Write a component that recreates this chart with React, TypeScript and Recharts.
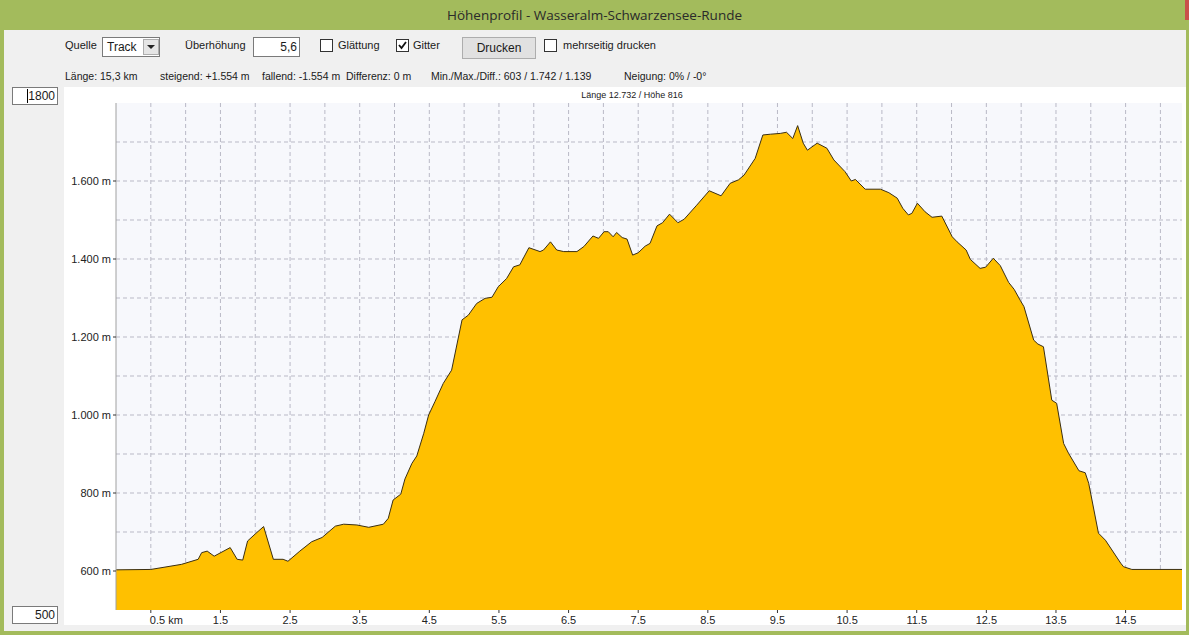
import React from 'react';
import { AreaChart, Area, XAxis, YAxis, CartesianGrid } from 'recharts';

// distance along the track (km)
const distances = [
  0, 0.5, 0.94, 1.18, 1.23, 1.31, 1.41, 1.64, 1.74, 1.82,
  1.89, 2.0, 2.12, 2.26, 2.4, 2.47, 2.64, 2.81, 2.96, 3.15,
  3.27, 3.46, 3.63, 3.84, 3.91, 3.98, 4.09, 4.15, 4.25, 4.32,
  4.42, 4.49, 4.58, 4.7, 4.82, 4.97, 5.06, 5.18, 5.3, 5.4,
  5.49, 5.61, 5.71, 5.8, 5.93, 6.09, 6.14, 6.24, 6.33, 6.43,
  6.62, 6.72, 6.85, 6.93, 7.01, 7.07, 7.14, 7.19, 7.27, 7.34,
  7.42, 7.5, 7.6, 7.67, 7.77, 7.85, 7.95, 8.07, 8.16, 8.34,
  8.52, 8.69, 8.82, 8.94, 9.02, 9.18, 9.29, 9.4, 9.54, 9.63,
  9.72, 9.79, 9.87, 9.93, 10.07, 10.21, 10.31, 10.47, 10.56, 10.62,
  10.76, 10.98, 11.1, 11.22, 11.3, 11.38, 11.43, 11.51, 11.62, 11.72,
  11.86, 12.01, 12.08, 12.21, 12.27, 12.41, 12.49, 12.6, 12.7, 12.82,
  12.9, 12.99, 13.04, 13.18, 13.24, 13.32, 13.44, 13.51, 13.61, 13.68,
  13.83, 13.92, 13.97, 14.11, 14.21, 14.43, 14.47, 14.59, 15.31,
];

// elevation (m)
const elevations = [
  603, 604, 617, 630, 647, 651, 638, 660, 630, 628,
  677, 695, 714, 630, 630, 625, 651, 675, 686, 715,
  720, 718, 712, 720, 735, 782, 797, 836, 876, 895,
  953, 1000, 1034, 1081, 1115, 1244, 1256, 1286, 1299, 1302,
  1329, 1350, 1380, 1385, 1429, 1419, 1423, 1444, 1423, 1419,
  1419, 1432, 1459, 1453, 1470, 1470, 1457, 1468, 1455, 1451,
  1410, 1416, 1433, 1440, 1485, 1493, 1515, 1493, 1502, 1538,
  1575, 1562, 1594, 1603, 1615, 1658, 1718, 1720, 1722, 1725,
  1709, 1742, 1697, 1679, 1697, 1684, 1654, 1624, 1600, 1604,
  1579, 1579, 1570, 1556, 1530, 1513, 1517, 1543, 1521, 1507,
  1510, 1457, 1444, 1423, 1399, 1376, 1379, 1402, 1383, 1340,
  1322, 1293, 1278, 1192, 1182, 1175, 1038, 1030, 927, 902,
  857, 852, 825, 697, 679, 620, 611, 604, 604,
];

const xTicks = [0.5, 1.5, 2.5, 3.5, 4.5, 5.5, 6.5, 7.5, 8.5, 9.5, 10.5, 11.5, 12.5, 13.5, 14.5];
const yTicks = [600, 800, 1000, 1200, 1400, 1600];
const xGrid = [0.5, 1, 1.5, 2, 2.5, 3, 3.5, 4, 4.5, 5, 5.5, 6, 6.5, 7, 7.5, 8, 8.5, 9, 9.5, 10, 10.5, 11, 11.5, 12, 12.5, 13, 13.5, 14, 14.5, 15];
const yGrid = [600, 700, 800, 900, 1000, 1100, 1200, 1300, 1400, 1500, 1600, 1700];

const data = distances.map((d, i) => ({ km: d, hoehe: elevations[i] }));

const font = '"Liberation Sans", Arial, sans-serif';

const fmtMeter = (v: number) =>
  v >= 1000 ? `${Math.floor(v / 1000)}.${String(v % 1000).padStart(3, '0')} m` : `${v} m`;

const XTick = (props: any) => {
  const { x, y, payload } = props;
  const first = payload.value === 0.5;
  return (
    <text x={first ? x - 1 : x} y={y} dy="0.71em" textAnchor={first ? 'start' : 'middle'}
      fontSize={11} fontFamily={font} fill="#222">
      {first ? '0.5 km' : String(payload.value)}
    </text>
  );
};

const YTick = (props: any) => {
  const { x, y, payload } = props;
  return (
    <text x={x} y={y} dy="0.355em" textAnchor="end" fontSize={11} fontFamily={font} fill="#222">
      {fmtMeter(payload.value)}
    </text>
  );
};

const Checkbox = ({ left, checked }: { left: number; checked?: boolean }) => (
  <div style={{ position: 'absolute', left, top: 39, width: 11, height: 11, border: '1px solid #333', background: '#fff' }}>
    {checked && (
      <svg width={11} height={11} style={{ position: 'absolute', left: 0, top: 0 }}>
        <polyline points="2,5 4.5,8 9,2" fill="none" stroke="#111" strokeWidth={1.8} />
      </svg>
    )}
  </div>
);

const Lbl = ({ left, top, children }: { left: number; top: number; children: React.ReactNode }) => (
  <div style={{ position: 'absolute', left, top, lineHeight: '13px', whiteSpace: 'nowrap' }}>{children}</div>
);

export default function App() {
  return (
    <div style={{ position: 'fixed', left: 0, top: 0, width: 1189, height: 635, background: '#a3bb5c', overflow: 'hidden', fontFamily: font, fontSize: 11, color: '#1a1a1a' }}>
      {/* title bar */}
      <div style={{ position: 'absolute', left: 0, top: 0, width: 1189, height: 30, lineHeight: '30px', textAlign: 'center', fontFamily: '"Open Sans", sans-serif', fontSize: 13.5, color: '#2a2a2a' }}>
        Höhenprofil - Wasseralm-Schwarzensee-Runde
      </div>
      <div style={{ position: 'absolute', right: 0, top: 0, width: 4, height: 20, background: '#c9504a' }} />

      {/* window body */}
      <div style={{ position: 'absolute', left: 4, top: 30, width: 1182, height: 601, background: '#f0f0f0' }} />

      {/* toolbar */}
      <Lbl left={65} top={39}>Quelle</Lbl>
      <div style={{ position: 'absolute', left: 102, top: 37, width: 56, height: 18, border: '1px solid #7a7a7a', background: '#fff' }}>
        <div style={{ position: 'absolute', left: 4, top: 0, lineHeight: '19px', fontSize: 12 }}>Track</div>
        <div style={{ position: 'absolute', left: 40, top: 1, width: 14, height: 14, border: '1px solid #adadad', background: '#e5e5e5' }}>
          <div style={{ position: 'absolute', left: 3, top: 5, width: 0, height: 0, borderLeft: '4px solid transparent', borderRight: '4px solid transparent', borderTop: '4px solid #222' }} />
        </div>
      </div>
      <Lbl left={185} top={39}>Überhöhung</Lbl>
      <div style={{ position: 'absolute', left: 253, top: 37, width: 43, height: 18, border: '1px solid #7a7a7a', background: '#fff', textAlign: 'right', lineHeight: '19px', fontSize: 12, paddingRight: 2, boxSizing: 'content-box' }}>5,6</div>
      <Checkbox left={320} />
      <Lbl left={338} top={39}>Glättung</Lbl>
      <Checkbox left={396} checked />
      <Lbl left={413} top={39}>Gitter</Lbl>
      <div style={{ position: 'absolute', left: 462, top: 37, width: 72, height: 20, border: '1px solid #adadad', background: '#e1e1e1', textAlign: 'center', lineHeight: '21px', fontSize: 12 }}>Drucken</div>
      <Checkbox left={544} />
      <Lbl left={563} top={39}>mehrseitig drucken</Lbl>

      {/* stats line */}
      <div style={{ fontSize: 10.5 }}>
        <Lbl left={65} top={70}>Länge: 15,3 km</Lbl>
        <Lbl left={160} top={70}>steigend: +1.554 m</Lbl>
        <Lbl left={262} top={70}>fallend: -1.554 m</Lbl>
        <Lbl left={346} top={70}>Differenz: 0 m</Lbl>
        <Lbl left={431} top={70}>Min./Max./Diff.: 603 / 1.742 / 1.139</Lbl>
        <Lbl left={624} top={70}>Neigung: 0% / -0°</Lbl>
      </div>

      {/* left panel range inputs */}
      <div style={{ position: 'absolute', left: 12, top: 87, width: 42, height: 16, border: '1px solid #7a7a7a', background: '#fff', textAlign: 'right', lineHeight: '17px', fontSize: 12, paddingRight: 2 }}>
        <span style={{ borderLeft: '1px solid #000' }}>1800</span>
      </div>
      <div style={{ position: 'absolute', left: 12, top: 606, width: 42, height: 16, border: '1px solid #7a7a7a', background: '#fff', textAlign: 'right', lineHeight: '17px', fontSize: 12, paddingRight: 2 }}>500</div>

      {/* chart area */}
      <div style={{ position: 'absolute', left: 64, top: 87, width: 1122, height: 538, background: '#fff' }}>
        <div style={{ position: 'absolute', left: 0, top: 3, width: 1136, textAlign: 'center', fontSize: 9, color: '#222' }}>
          Länge 12.732 / Höhe 816
        </div>
        <AreaChart width={1122} height={538} data={data} margin={{ top: 16, right: 4, left: 0, bottom: 0 }}>
          <CartesianGrid fill="#f7f8fc" stroke="#b9b9c6" strokeDasharray="4 3"
            horizontalValues={yGrid} verticalValues={xGrid} />
          <XAxis dataKey="km" type="number" domain={[0, 15.31]} ticks={xTicks} interval={0}
            height={15} axisLine={false} tickSize={3} tickMargin={3} tickLine={{ stroke: '#333' }}
            tick={<XTick />} allowDataOverflow />
          <XAxis xAxisId="top" orientation="top" type="number" domain={[0, 15.31]} height={0}
            tick={false} tickLine={false} axisLine={{ stroke: '#a0a0a0' }} />
          <YAxis type="number" domain={[500, 1800]} ticks={yTicks} interval={0} width={52}
            tickSize={3} tickMargin={2}
            axisLine={{ stroke: '#a0a0a0' }} tickLine={{ stroke: '#333' }}
            tick={<YTick />} allowDataOverflow />
          <YAxis yAxisId="right" orientation="right" type="number" domain={[500, 1800]} width={0}
            tick={false} tickLine={false} axisLine={{ stroke: '#a0a0a0' }} />
          <Area type="linear" dataKey="hoehe" stroke="#3b2f12" strokeWidth={1}
            fill="#ffc000" fillOpacity={1} isAnimationActive={false} dot={false} activeDot={false} />
        </AreaChart>
      </div>
    </div>
  );
}
